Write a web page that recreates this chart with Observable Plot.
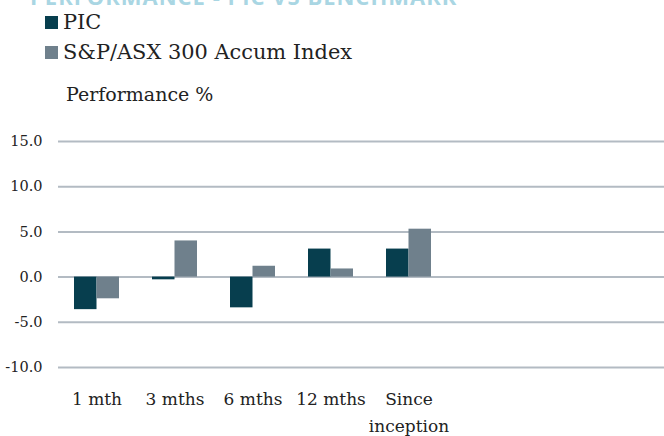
<!DOCTYPE html>
<html>
<head>
<meta charset="utf-8">
<script src="https://cdn.jsdelivr.net/npm/d3@7"></script>
<script src="https://cdn.jsdelivr.net/npm/@observablehq/plot@0.6"></script>
<style>
  html, body { margin: 0; padding: 0; background: #ffffff; overflow: hidden; }
  body { width: 664px; height: 436px; position: relative; font-family: "DejaVu Serif", serif; color: #222; }
  #title { position: absolute; left: 30px; top: -15px; font: 700 22px/22px "Open Sans", sans-serif; color: #a9d6e3; letter-spacing: 1px; white-space: nowrap; }
  #legend { position: absolute; left: 45px; top: 7px; font-size: 20.9px; line-height: 30px; }
  #legend .sw { display: inline-block; width: 13px; height: 13px; margin-right: 5px; }
  #ylabel { position: absolute; left: 66px; top: 79px; font-size: 19px; line-height: 30px; }
  #chart { position: absolute; left: 0; top: 110px; }
</style>
</head>
<body>
<div id="title">PERFORMANCE - PIC VS BENCHMARK</div>
<div id="legend"></div>
<div id="ylabel">Performance %</div>
<div id="chart"></div>
<script>
const categories = ["1 mth", "3 mths", "6 mths", "12 mths", "Since inception"];
const series = ["PIC", "S&P/ASX 300 Accum Index"];
const picValues = [-3.6, -0.3, -3.4, 3.1, 3.1];
const indexValues = [-2.4, 4.0, 1.2, 0.9, 5.3];
const yTicks = [-10, -5, 0, 5, 10, 15];
const colors = ["#073e4e", "#6f808c"];

// legend
const legend = document.getElementById("legend");
series.forEach((s, i) => {
  const row = document.createElement("div");
  const sw = document.createElement("span");
  sw.className = "sw";
  sw.style.background = colors[i];
  row.appendChild(sw);
  row.appendChild(document.createTextNode(s));
  legend.appendChild(row);
});

const picData = categories.map((c, i) => ({category: c, value: picValues[i]}));
const indexData = categories.map((c, i) => ({category: c, value: indexValues[i]}));

const chart = Plot.plot({
  width: 664,
  height: 326,
  marginLeft: 58,
  marginRight: 0,
  marginTop: 31,
  marginBottom: 69,
  style: {fontFamily: "'DejaVu Serif', serif", background: "transparent", color: "#222"},
  x: {domain: categories, range: [58, 448], paddingInner: 0.423, paddingOuter: 0.2115, label: null},
  y: {domain: [-10, 15], label: null},
  marks: [
    Plot.ruleY(yTicks, {stroke: "#b3bbc3", strokeWidth: 2}),
    Plot.barY(picData, {x: "category", y: "value", fill: colors[0], insetRight: 22.5}),
    Plot.barY(indexData, {x: "category", y: "value", fill: colors[1], insetLeft: 22.5}),
    Plot.axisY({ticks: yTicks, tickSize: 0, tickPadding: 16, fontSize: 14.5, tickFormat: d => d.toFixed(1), label: null}),
    Plot.axisX({tickSize: 0, tickPadding: 17.5, fontSize: 17, lineHeight: 1.62, tickFormat: d => d.replace(" inception", "\ninception"), label: null})
  ]
});
document.getElementById("chart").appendChild(chart);
</script>
</body>
</html>
